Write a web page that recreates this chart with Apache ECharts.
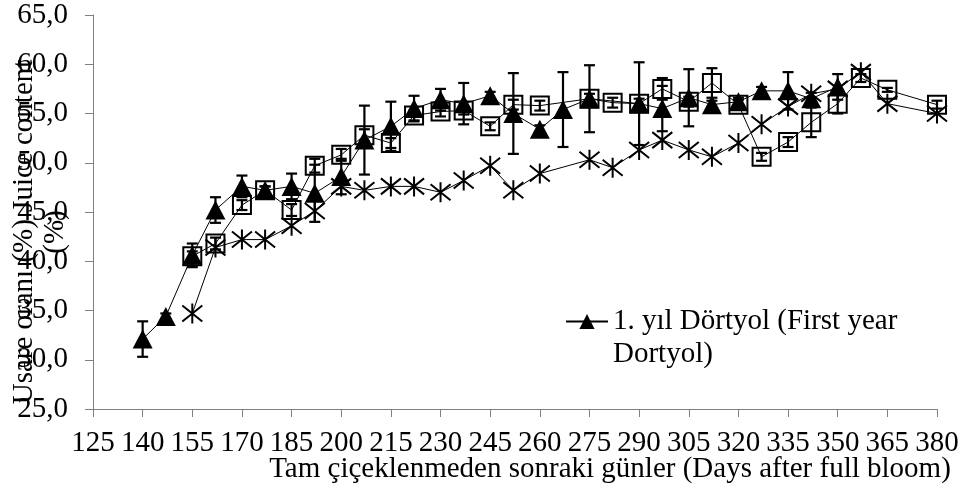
<!DOCTYPE html>
<html>
<head>
<meta charset="utf-8">
<script src="https://cdn.jsdelivr.net/npm/echarts@6/dist/echarts.min.js"></script>
<style>
  html, body { margin: 0; padding: 0; background: #fff; }
  #chart { width: 960px; height: 491px; }
</style>
</head>
<body>
<div id="chart"></div>
<script>
// Days after full bloom and juice content (%) for each sampling series
const triDays = [140,147,155,162,170,177,185,192,200,207,215,222,230,237,245,252,260,267,275,290,297,305,312,320,327,335,342,350];
const triVals = [32.1,34.4,40.6,45.2,47.6,47.2,47.6,46.9,48.6,52.3,53.7,55.5,56.4,56.0,56.8,55.0,53.4,55.4,56.5,56.0,55.5,56.6,55.9,56.2,57.3,57.3,56.5,57.7];
const triErr  = [1.8,0.3,1.2,1.3,1.1,0.4,1.3,2.9,1.8,3.5,2.5,1.3,1.1,2.1,0.4,4.1,0.4,3.8,3.4,4.2,2.3,2.9,0.4,0.4,0.4,1.9,0.6,1.3];

const sqDays = [155,162,170,177,185,192,200,207,215,222,230,237,245,252,260,275,282,290,297,305,312,320,327,335,342,350,357,365,380];
const sqVals = [40.5,41.8,45.7,47.2,45.2,49.7,50.8,52.8,52.0,54.8,55.2,55.3,53.7,55.9,55.8,56.5,56.1,56.0,57.5,56.2,58.1,55.9,50.6,52.1,54.1,56.0,58.6,57.4,55.9];
const sqErr  = [0.5,0.6,0.5,0.4,0.6,0.7,0.6,0.6,0.5,0.5,0.5,0.4,0.4,0.5,0.5,0.5,0.5,0.5,1.1,0.5,1.5,0.5,0.4,0.5,1.5,1.0,0.4,0.2,0.4];

const starDays = [155,162,170,177,185,192,200,207,215,222,230,237,245,252,260,275,282,290,297,305,312,320,327,335,342,350,357,365,380];
const starVals = [34.7,41.4,42.2,42.2,43.6,45.1,47.6,47.2,47.6,47.6,47.0,48.2,49.7,47.2,48.9,50.3,49.5,51.3,52.3,51.3,50.6,52.0,53.9,55.7,57.0,57.5,59.2,56.0,55.0];

const triName = '1. yıl Dörtyol (First year Dortyol)';
const sqName = 'Series 2';
const starName = 'Series 3';
const yTitle = 'Usare oranı (%) Juice content\n(%)';
const xTitle = 'Tam çiçeklenmeden sonraki günler (Days after full bloom)';

const FONT = "'Liberation Serif', 'Times New Roman', serif";
const FS = 29;

function pairs(xs, ys) { return xs.map((x, i) => [x, ys[i]]); }

function errorBars(xs, ys, es) {
  return {
    type: 'custom',
    silent: true,
    z: 4,
    data: xs.map((x, i) => [x, ys[i] - es[i], ys[i] + es[i]]),
    encode: { x: 0, y: [1, 2] },
    renderItem: function (params, api) {
      const lo = api.coord([api.value(0), api.value(1)]);
      const hi = api.coord([api.value(0), api.value(2)]);
      const w = 5.5;
      const st = { stroke: '#000', lineWidth: 2.2, fill: null };
      return {
        type: 'group',
        children: [
          { type: 'line', shape: { x1: lo[0], y1: lo[1], x2: hi[0], y2: hi[1] }, style: st },
          { type: 'line', shape: { x1: lo[0] - w, y1: lo[1], x2: lo[0] + w, y2: lo[1] }, style: st },
          { type: 'line', shape: { x1: hi[0] - w, y1: hi[1], x2: hi[0] + w, y2: hi[1] }, style: st }
        ]
      };
    }
  };
}

const chart = echarts.init(document.getElementById('chart'), null, { renderer: 'canvas' });

chart.setOption({
  animation: false,
  backgroundColor: '#fff',
  textStyle: { fontFamily: FONT },
  grid: { left: 93, right: 23, top: 15, bottom: 82, containLabel: false, outerBoundsMode: 'none' },
  legend: {
    data: [triName],
    left: 565,
    top: 272,
    padding: 0,
    itemWidth: 42,
    itemHeight: 19,
    // leading blank line keeps the first text line level with the legend symbol
    formatter: function (n) { return '\n' + n.replace('year ', 'year\n'); },
    textStyle: { fontFamily: FONT, fontSize: FS, color: '#000', lineHeight: 33 }
  },
  xAxis: {
    type: 'value',
    min: 125, max: 380, interval: 15,
    name: xTitle,
    nameLocation: 'middle',
    nameGap: 46,
    nameMoveOverlap: false,
    nameTextStyle: { fontFamily: FONT, fontSize: FS, color: '#000', padding: [0, 0, 0, 190] },
    axisLine: { lineStyle: { color: '#808080', width: 1 } },
    axisTick: { show: true, length: 8, inside: false, lineStyle: { color: '#808080' } },
    axisLabel: { fontFamily: FONT, fontSize: FS, color: '#000', margin: 20 },
    splitLine: { show: false }
  },
  yAxis: {
    type: 'value',
    min: 25, max: 65, interval: 5,
    name: yTitle,
    nameLocation: 'middle',
    nameRotate: 90,
    nameGap: 22,
    nameMoveOverlap: false,
    nameTextStyle: { fontFamily: FONT, fontSize: FS, color: '#000', lineHeight: 31, padding: [0, 40, 0, 0] },
    axisLine: { show: true, lineStyle: { color: '#808080', width: 1 } },
    axisTick: { show: true, length: 8, inside: false, lineStyle: { color: '#808080' } },
    axisLabel: {
      fontFamily: FONT, fontSize: FS, color: '#000', margin: 25,
      formatter: function (v) { return v.toFixed(1).replace('.', ','); }
    },
    splitLine: { show: false }
  },
  series: [
    {
      name: starName,
      type: 'line',
      data: pairs(starDays, starVals),
      symbol: 'path://M10,0L10,20M1,2L19,18M1,18L19,2',
      symbolSize: [20, 20],
      itemStyle: { color: 'rgba(0,0,0,0)', borderColor: '#000', borderWidth: 2 },
      lineStyle: { color: '#000', width: 1 },
      z: 2
    },
    {
      name: sqName,
      type: 'line',
      data: pairs(sqDays, sqVals),
      symbol: 'rect',
      symbolSize: 18,
      itemStyle: { color: 'rgba(0,0,0,0)', borderColor: '#000', borderWidth: 2 },
      lineStyle: { color: '#000', width: 1 },
      z: 3
    },
    errorBars(sqDays, sqVals, sqErr),
    {
      name: triName,
      type: 'line',
      data: pairs(triDays, triVals),
      symbol: 'triangle',
      symbolSize: [20, 19],
      itemStyle: { color: '#000', borderColor: '#000', borderWidth: 0 },
      lineStyle: { color: '#000', width: 1 },
      z: 5
    },
    errorBars(triDays, triVals, triErr)
  ]
});
</script>
</body>
</html>
